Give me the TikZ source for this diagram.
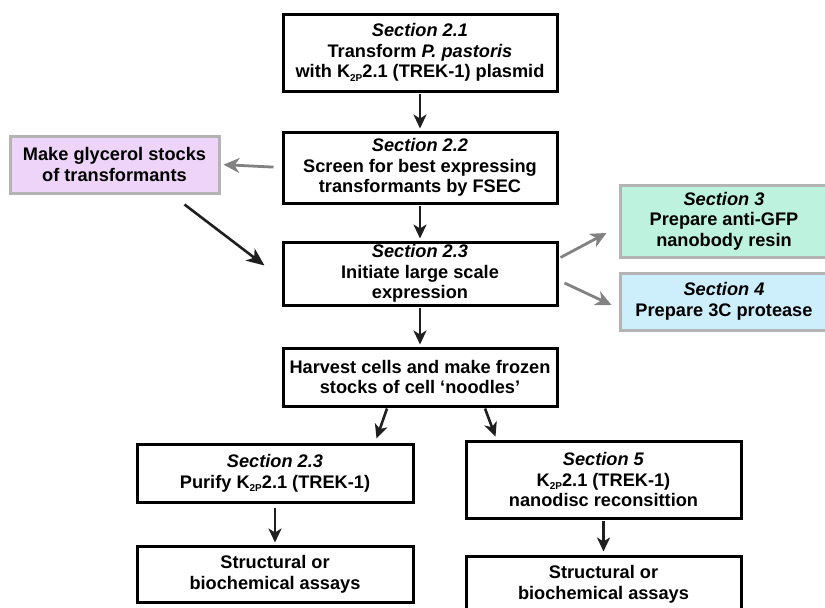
\documentclass[tikz,border=0pt]{standalone}
\usepackage{fontspec}
\setmainfont{Liberation Sans}
\usetikzlibrary{arrows.meta}
\definecolor{glycpurple}{HTML}{EDD4F8}
\definecolor{resingreen}{HTML}{BDF2DE}
\definecolor{proteaseblue}{HTML}{CDEEFB}
\definecolor{boxgray}{HTML}{B4B4B4}
\definecolor{arrowgray}{HTML}{828282}
\newcommand{\kchan}{K\raisebox{-3.5pt}{\fontsize{10}{10}\selectfont 2P}}
\begin{document}
\begin{tikzpicture}[x=1pt, y=-1pt, >={Stealth[length=14pt,width=13pt,inset=4pt]},
	box/.style={draw, line width=3pt, align=center, inner sep=0pt,
		font=\fontsize{18.2}{20.6}\selectfont\bfseries},
	sidebox/.style={box, draw=boxgray},
	flow/.style={->, line width=2.6pt, black!88},
	side/.style={->, line width=2.8pt, arrowgray, >={Stealth[length=16pt,width=15pt,inset=5pt]}}]
	\useasboundingbox (0,0) rectangle (825,608);
	\node (A) [box, minimum width=274pt, minimum height=77pt] at (420,52.5) {\textit{Section 2.1}\\Transform \textit{P. pastoris}\\with \kchan2.1 (TREK-1) plasmid};
	\node (B) [box, minimum width=274pt, minimum height=71pt] at (420,167.5) {\textit{Section 2.2}\\Screen for best expressing\\transformants by FSEC};
	\node (C) [box, minimum width=274pt, minimum height=63pt] at (420,273.5) {\textit{Section 2.3}\\Initiate large scale\\expression};
	\node (G) [sidebox, fill=glycpurple, minimum width=209pt, minimum height=57pt] at (114.5,164.5) {Make glycerol stocks\\of transformants};
	\node (R) [sidebox, fill=resingreen, minimum width=208pt, minimum height=72pt] at (724,221) {\textit{Section 3}\\Prepare anti-GFP\\nanobody resin};
	\node (T) [sidebox, fill=proteaseblue, minimum width=208pt, minimum height=57pt] at (724,301.5) {\textit{Section 4}\\Prepare 3C protease};
	\node (D) [box, minimum width=274pt, minimum height=58pt] at (420,377) {Harvest cells and make frozen\\stocks of cell ‘noodles’};
	\node (E) [box, minimum width=276pt, minimum height=58pt] at (275,473) {\textit{Section 2.3}\\Purify \kchan2.1 (TREK-1)};
	\node (F) [box, minimum width=275pt, minimum height=77pt] at (603.5,479.5) {\textit{Section 5}\\\kchan2.1 (TREK-1)\\nanodisc reconsittion};
	\node (S1) [box, minimum width=276pt, minimum height=56pt] at (275,574) {Structural or\\biochemical assays};
	\node (S2) [box, minimum width=275pt, minimum height=56pt] at (603.5,584) {Structural or\\biochemical assays};
	\draw[flow, shorten <=1pt, shorten >=2pt] (A) -- (B);
	\draw[flow, shorten <=1pt, shorten >=2pt] (B) -- (C);
	\draw[flow, shorten <=1pt, shorten >=2pt] (C) -- (D);
	\draw[side, shorten <=8pt, shorten >=3pt] (B.west) -- (G.east);
	\draw[flow, >={Stealth[length=18pt,width=15pt,inset=5pt]}] ([shift={(-36,10)}]G.south east) -- ([shift={(-17,25)}]C.north west);
	\draw[side] ([shift={(2,-16)}]C.east) -- ([shift={(-12,12)}]R.west);
	\draw[side] ([shift={(6,9.5)}]C.east) -- ([shift={(-7,3.5)}]T.west);
	\draw[flow] ([shift={(-33,1)}]D.south) -- ([shift={(-38,-4)}]E.north east);
	\draw[flow] ([shift={(65,1)}]D.south) -- ([shift={(31,-3)}]F.north west);
	\draw[flow, shorten <=4pt, shorten >=2pt] (E) -- (S1);
	\draw[flow, shorten <=1pt, shorten >=3pt] (F) -- (S2);
\end{tikzpicture}
\end{document}
